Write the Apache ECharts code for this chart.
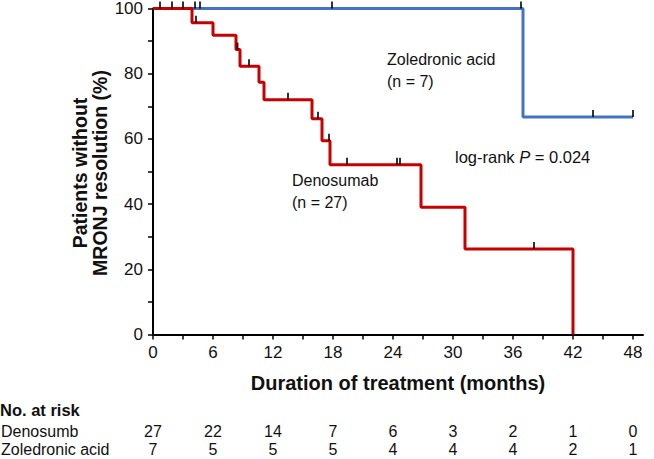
<!DOCTYPE html>
<html><head><meta charset="utf-8">
<script src="https://cdn.jsdelivr.net/npm/echarts@6/dist/echarts.min.js"></script>
<style>html,body{margin:0;padding:0;background:#fff}#c{width:654px;height:459px}</style>
</head><body><div id="c"></div>
<script>
// ---- data ----
const xTickLabels = [0, 6, 12, 18, 24, 30, 36, 42, 48];
const xTickMarks = [0, 3, 6, 9, 12, 15, 18, 21, 24, 27, 30, 33, 36, 39, 42, 45, 48];
const denoTimes = [0, 3.9, 6.0, 8.3, 8.7, 10.6, 11.1, 15.9, 16.9, 17.7, 26.8, 31.2, 42.0];
const denoSurv  = [100, 95.6, 91.8, 87.4, 82.3, 77.4, 72.0, 66.2, 59.4, 52.1, 39.0, 26.2, 0];
const zolTimes = [0, 37.0, 48.0];
const zolSurv  = [100, 66.7, 66.7];
const denoCensorTimes = [4.3, 8.45, 9.6, 13.5, 16.5, 17.6, 19.4, 24.4, 24.7, 38.1];
const denoCensorSurv  = [95.6, 87.4, 82.3, 72.0, 66.2, 59.4, 52.1, 52.1, 52.1, 26.2];
const zolCensorTimes = [0.7, 1.9, 3.0, 4.2, 4.7, 17.9, 36.8, 44.0, 48.0];
const zolCensorSurv  = [100, 100, 100, 100, 100, 100, 100, 66.7, 66.7];
const riskTimes = [0, 6, 12, 18, 24, 30, 36, 42, 48];
const riskDeno = [27, 22, 14, 7, 6, 3, 2, 1, 0];
const riskZol  = [7, 5, 5, 5, 4, 4, 4, 2, 1];

const FONT = "'Liberation Sans', Arial, Helvetica, sans-serif";
const RED = '#c80000', BLUE = '#4472c4', TXT = '#111';
const zip = (a, b) => a.map((v, i) => [v, b[i]]);

const chart = echarts.init(document.getElementById('c'), null, {renderer: 'svg'});
chart.setOption({
  animation: false,
  backgroundColor: '#fff',
  textStyle: {fontFamily: FONT},
  grid: {left: 153, top: 7, right: 11, bottom: 124.5, containLabel: false},
  xAxis: {
    type: 'value', min: 0, max: 49,
    axisLine: {show: true, onZero: false, lineStyle: {color: '#000', width: 2}},
    axisTick: {show: true, customValues: xTickMarks, length: 5, lineStyle: {color: '#000', width: 1.5}},
    axisLabel: {customValues: xTickLabels, fontSize: 17, color: TXT, margin: 9, fontFamily: FONT},
    splitLine: {show: false},
    name: 'Duration of treatment (months)', nameLocation: 'middle', nameGap: 38,
    nameTextStyle: {fontWeight: 'bold', fontSize: 20, color: TXT, fontFamily: FONT}
  },
  yAxis: {
    type: 'value', min: 0, max: 100, interval: 20,
    axisLine: {show: true, lineStyle: {color: '#000', width: 2}},
    axisTick: {show: true, length: 5, lineStyle: {color: '#000', width: 1.5}},
    minorTick: {show: true, splitNumber: 2, length: 5, lineStyle: {color: '#000', width: 1.5}},
    axisLabel: {fontSize: 17, color: TXT, margin: 10, fontFamily: FONT},
    splitLine: {show: false}, minorSplitLine: {show: false}
  },
  series: [
    {type: 'line', name: 'Zoledronic acid', data: zip(zolTimes, zolSurv), step: 'end',
     showSymbol: false, clip: false, lineStyle: {color: BLUE, width: 3}, z: 2},
    {type: 'line', name: 'Denosumab', data: zip(denoTimes, denoSurv), step: 'end',
     showSymbol: false, clip: false, lineStyle: {color: RED, width: 3}, z: 3},
    {type: 'scatter', name: 'censor', clip: false, symbol: 'rect', symbolSize: [2, 7], symbolOffset: [0, -3.5],
     itemStyle: {color: '#000'}, z: 5,
     data: zip(zolCensorTimes, zolCensorSurv).concat(zip(denoCensorTimes, denoCensorSurv))}
  ]
});

function txt(x, y, text, opts) {
  return Object.assign({type: 'text', x: x, y: y, style: Object.assign({
    text: text, fill: TXT, font: '16px ' + FONT, textAlign: 'left', textVerticalAlign: 'middle'
  }, opts || {})});
}
const els = [];
els.push({type: 'text', x: 90, y: 173, rotation: Math.PI / 2,
  style: {text: 'Patients without\nMRONJ resolution (%)', fill: TXT, font: 'bold 19.5px ' + FONT,
          textAlign: 'center', textVerticalAlign: 'middle', lineHeight: 20}});
els.push(txt(387, 70, 'Zoledronic acid\n(n = 7)', {lineHeight: 22}));
els.push(txt(292, 191, 'Denosumab\n(n = 27)', {lineHeight: 22}));
els.push({type: 'text', x: 455, y: 157, style: {
  text: '{a|log-rank }{p|P}{a| = 0.024}', fill: TXT, font: '16.5px ' + FONT,
  textAlign: 'left', textVerticalAlign: 'middle',
  rich: {a: {fontSize: 16.5, fontFamily: FONT, fill: TXT}, p: {fontSize: 16.5, fontFamily: FONT, fontStyle: 'italic', fill: TXT}}}});
els.push(txt(0, 410, 'No. at risk', {font: 'bold 16.5px ' + FONT}));
els.push(txt(1, 431.5, 'Denosumb', {font: '16px ' + FONT}));
els.push(txt(1, 449.5, 'Zoledronic acid', {font: '16px ' + FONT}));
riskTimes.forEach((t, i) => {
  const px = chart.convertToPixel({xAxisIndex: 0}, t);
  els.push(txt(px, 431.5, String(riskDeno[i]), {textAlign: 'center', font: '16px ' + FONT}));
  els.push(txt(px, 449.5, String(riskZol[i]), {textAlign: 'center', font: '16px ' + FONT}));
});
chart.setOption({graphic: {elements: els}});
</script></body></html>
